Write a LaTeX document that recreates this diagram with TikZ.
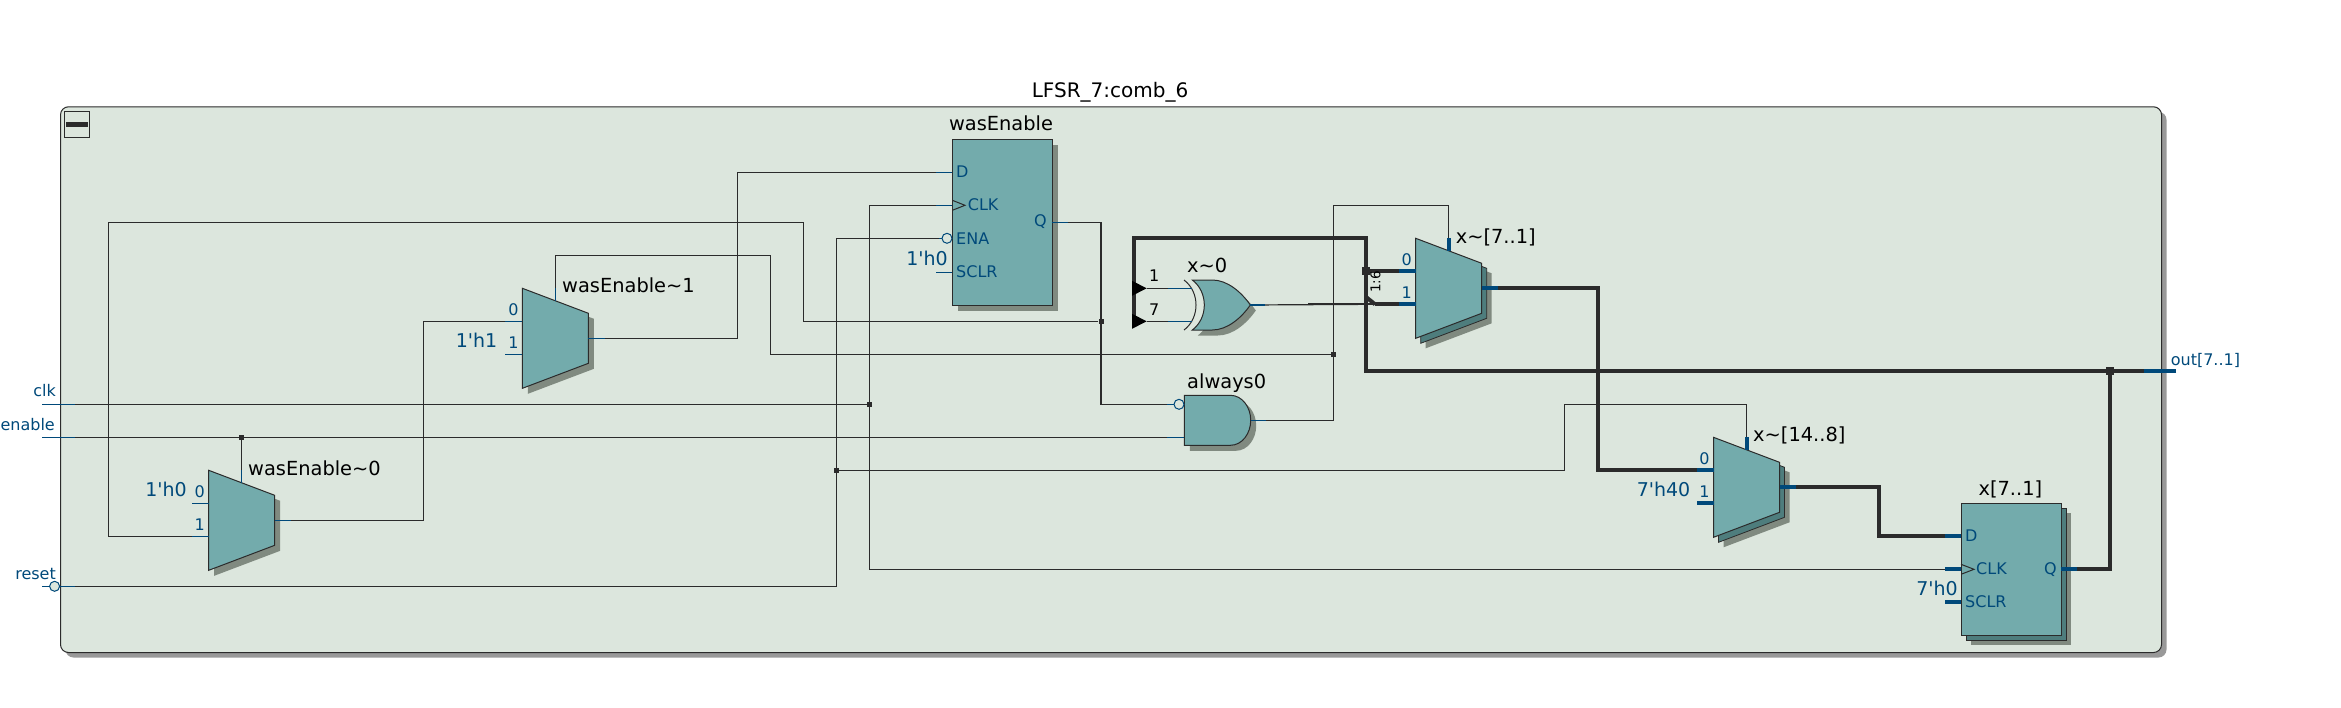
\documentclass[tikz,border=0pt]{standalone}
\usepackage{fontspec}
\setmainfont{DejaVu Sans}
\usetikzlibrary{shadows}
\definecolor{frameGreen}{HTML}{DCE6DD}
\definecolor{frameGray}{HTML}{999999}
\definecolor{blockTeal}{HTML}{73ABAC}
\definecolor{blockGray}{HTML}{808A80}
\definecolor{stackTeal}{HTML}{4E7D7D}
\definecolor{pinBlue}{HTML}{00497A}
\definecolor{wireBlack}{HTML}{2B2B2B}
\tikzset{
	wire/.style={line width=1.2pt, color=wireBlack},
	bus/.style={line width=4pt, color=wireBlack},
	stub/.style={line width=1.2pt, color=pinBlue},
	busstub/.style={line width=4pt, color=pinBlue},
	blockface/.style={draw=wireBlack, line width=1pt, fill=blockTeal},
	shadowface/.style={fill=blockGray},
	stackface/.style={draw=wireBlack, line width=.8pt, fill=stackTeal},
	junction/.style={fill=wireBlack, inner sep=0pt, minimum size=5pt},
	bigjunction/.style={junction, minimum size=8pt},
	bubble/.style={circle, draw=pinBlue, line width=1pt, fill=frameGreen, inner sep=0pt, minimum size=10pt},
	namelbl/.style={font=\fontsize{19.4}{20}\selectfont, inner sep=0pt, anchor=base west},
	constlbl/.style={font=\fontsize{19}{20}\selectfont, text=pinBlue, inner sep=0pt, anchor=base east},
	pinlbl/.style={font=\fontsize{16}{18}\selectfont, text=pinBlue, inner sep=0pt, anchor=base west},
	ffbox/.style={anchor=north west, draw=wireBlack, line width=1pt, fill=blockTeal, inner sep=0pt},
	pics/muxface/.style={code={
		\path[#1] (0,0) -- (66,25) -- (66,75) -- (0,100) -- cycle;
	}},
	pics/muxpins/.style={code={
		\coordinate (-p0) at (0,33);
		\coordinate (-p1) at (0,66);
		\coordinate (-out) at (66,50);
		\coordinate (-sel) at (33,0);
		\node[pinlbl, anchor=base east] (-zero) at (-3.7,27) {0};
		\node[pinlbl, anchor=base east] (-one) at (-3.7,60.3) {1};
	}},
	pics/xorface/.style={code={
		\path[#1] (0,0) -- (20,0) .. controls (35,0) and (49,12) .. (58,25)
			.. controls (49,38) and (35,50) .. (20,50) -- (0,50)
			.. controls (16,38) and (16,12) .. (0,0) -- cycle;
	}},
	pics/andface/.style={code={
		\path[#1] (0,0) -- (46,0) .. controls (58,0) and (66.4,12) .. (66.4,25)
			.. controls (66.4,38) and (58,50) .. (46,50) -- (0,50) -- cycle;
	}},
}
\begin{document}
\begin{tikzpicture}[x=1pt, y=-1pt]
	\useasboundingbox (0,0) rectangle (2341,707);

	%Rahmen
	\node[anchor=north west, draw=wireBlack, line width=1pt, fill=frameGreen, rounded corners=8pt, inner sep=0pt,
		minimum width=2101pt, minimum height=545.7pt,
		general shadow={shadow xshift=5pt, shadow yshift=-5pt, fill=frameGray}] (blockFrame) at (60,106.3) {};
	\node[anchor=north west, draw=wireBlack, line width=1pt, inner sep=0pt, minimum width=25pt, minimum height=26pt] (collapseBox) at (64,111) {};
	\node[fill=wireBlack, inner sep=0pt, minimum width=22pt, minimum height=4.5pt] (collapseBar) at (collapseBox.center) {};
	\node[namelbl, font=\fontsize{20}{20}\selectfont, anchor=base] (frameName) at (1110,97.3) {LFSR\_7:comb\_6};

	%Anschlusspunkte
	\coordinate (inClk) at (42,404.3);
	\coordinate (inEnable) at (42,437.3);
	\coordinate (inReset) at (42,586.3);
	\coordinate (outBus) at (2176,370.7);
	\coordinate (ffaD) at (952.3,172.3);
	\coordinate (ffaClk) at (952.3,205.3);
	\coordinate (ffaEna) at (942,238.3);
	\coordinate (ffaSclr) at (952.3,272.3);
	\coordinate (ffaQ) at (1051.7,222.3);
	\coordinate (ffbD) at (1961,535.7);
	\coordinate (ffbClk) at (1961,569.3);
	\coordinate (ffbSclr) at (1961,601.7);
	\coordinate (ffbQ) at (2060.6,569.3);
	\coordinate (andIn) at (1174,404.3);
	\coordinate (andEn) at (1184.3,437.3);
	\coordinate (andOut) at (1250.7,420.3);
	\coordinate (xorIn) at (1146.7,288.3);
	\coordinate (xorInb) at (1146.7,321.3);
	\coordinate (xorOut) at (1250,305);
	\coordinate (ripTop) at (1366,297);
	\coordinate (ripEnd) at (1375,304.3);
	\coordinate (ripWide) at (1308,304.3);
	\coordinate (cornerQ) at (803.5,222.3);
	\coordinate (cornerFeed) at (108.7,222.3);
	\coordinate (cornerSel) at (770.4,255.3);
	\coordinate (cornerAlw) at (1333.7,205.3);
	\coordinate (cornerRst) at (1564.4,404.3);
	\coordinate (busLeft) at (1134,321.3);
	\coordinate (busTop) at (1366,238.3);

	%Knoten auf den Leitungen
	\node[junction] (jClk) at (869.4,404.3) {};
	\node[junction] (jEnable) at (241.7,437.3) {};
	\node[junction] (jReset) at (836.7,470.3) {};
	\node[junction] (jQ) at (1101,321.3) {};
	\node[junction] (jAlways) at (1333.7,354.3) {};
	\node[bigjunction] (jBus) at (1366,271.3) {};
	\node[bigjunction] (jOut) at (2110,370.7) {};

	%Muxe, Gatter
	\foreach \n/\x/\y in {muxA/208.7/470.3, muxB/522.4/288.3}
	{
		\pic at (\x+5.5,\y+5.5) {muxface=shadowface};
		\pic at (\x,\y) {muxface=blockface};
		\pic (\n) at (\x,\y) {muxpins};
	}
	\foreach \n/\x/\y in {muxC/1415.7/238.3, muxD/1713.5/437.3}
	{
		\pic at (\x+10,\y+10) {muxface=shadowface};
		\pic at (\x+5,\y+5) {muxface=stackface};
		\pic at (\x,\y) {muxface=blockface};
		\pic (\n) at (\x,\y) {muxpins};
	}
	\pic at (1197.8,285.5) {xorface=shadowface};
	\pic at (1192.3,280) {xorface=blockface};
	\draw[wire, line width=1pt] (1184,280) .. controls (1200,292) and (1200,318) .. (1184,330);
	\pic at (1189.8,400.8) {andface=shadowface};
	\pic at (1184.3,395.3) {andface=blockface};

	%Leitungen
	\draw[wire] (muxB-out) -- ++(149,0) |- (ffaD);
	\draw[wire] (muxA-out) -- ++(149,0) |- (muxB-p0);
	\draw[wire] (inEnable) -- (andEn);
	\draw[wire] (muxA-sel) -- (jEnable);
	\draw[wire] (inClk) -- (jClk);
	\draw[wire] (ffaClk) -- (jClk |- ffaClk) |- (ffbClk);
	\draw[wire] (inReset) -- (jReset |- inReset) |- (ffaEna);
	\draw[wire] (jReset) -| (cornerRst) -| (muxD-sel);
	\draw[wire] (ffaQ) -| (jQ) |- (andIn);
	\draw[wire] (jQ) -| (cornerQ) -- (cornerFeed) |- (muxA-p1);
	\draw[wire] (muxB-sel) |- (cornerSel) |- (jAlways);
	\draw[wire] (andOut) -| (cornerAlw) -| (muxC-sel);
	\draw[wire] (xorIn) -- ++(45,0);
	\draw[wire] (xorInb) -- ++(45,0);
	\draw[wire] (xorOut) -- (ripEnd);
	\draw[line width=2pt, wireBlack] (ripWide) -- (ripEnd);
	\draw[bus, line join=miter] (busLeft) |- (busTop) |- (outBus);
	\draw[bus] (jBus) -- (muxC-p0);
	\draw[bus] (ripTop) -- (ripEnd);
	\draw[bus] (ripEnd) -- (muxC-p1);
	\draw[bus, line join=miter] (muxC-out) -- ++(116,0) |- (muxD-p0);
	\draw[bus, line join=miter] (muxD-out) -- ++(99.3,0) |- (ffbD);
	\draw[bus, line join=miter] (ffbQ) -| (jOut);

	%Register
	\node[ffbox, minimum width=99.4pt, minimum height=166pt,
		general shadow={shadow xshift=5.5pt, shadow yshift=-5.5pt, fill=blockGray}] (ffA) at (952.3,139.3) {};
	\node[ffbox, minimum width=99.6pt, minimum height=132pt,
		general shadow={shadow xshift=9.5pt, shadow yshift=-9pt, fill=blockGray},
		general shadow={shadow xshift=5pt, shadow yshift=-5pt, fill=stackTeal, draw=wireBlack}] (ffB) at (1961,503.3) {};

	%Stummel
	\foreach \n in {muxA, muxB}
	{
		\draw[stub] (\n-p0) -- ++(-17,0);
		\draw[stub] (\n-p1) -- ++(-17,0);
		\draw[stub] (\n-out) -- ++(16.5,0);
		\draw[stub] (\n-sel) -- ++(0,13);
	}
	\foreach \n in {muxC, muxD}
	{
		\draw[busstub] (\n-p0) -- ++(-17,0);
		\draw[busstub] (\n-p1) -- ++(-17,0);
		\draw[busstub] (\n-out) -- ++(16.5,0);
		\draw[busstub] (\n-sel) -- ++(0,13);
	}
	\draw[stub] (ffaD) -- ++(-16,0);
	\draw[stub] (ffaClk) -- ++(-16,0);
	\draw[stub] (ffaEna) -- ++(-3,0);
	\draw[stub] (ffaSclr) -- ++(-16,0);
	\draw[stub] (ffaQ) -- ++(16,0);
	\draw[stub] (andIn) -- ++(-7,0);
	\draw[stub] (andEn) -- ++(-17,0);
	\draw[stub] (andOut) -- ++(15,0);
	\draw[stub] (xorOut) -- ++(15,0);
	\draw[stub] (xorIn) ++(21,0) -- ++(24,0);
	\draw[stub] (xorInb) ++(21,0) -- ++(24,0);
	\draw[stub] (inClk) -- ++(32.5,0);
	\draw[stub] (inEnable) -- ++(32.5,0);
	\draw[stub] (inReset) -- ++(32.5,0);
	\draw[busstub] (ffbD) -- ++(-16,0);
	\draw[busstub] (ffbClk) -- ++(-16,0);
	\draw[busstub] (ffbSclr) -- ++(-16,0);
	\draw[busstub] (ffbQ) -- ++(16,0);
	\draw[busstub] (outBus) -- ++(-32,0);
	\draw[wire, line width=1pt] (952.3,200.3) -- (965,205.3) -- (952.3,210.3);
	\draw[wire, line width=1pt] (1961,564.3) -- (1974,569.3) -- (1961,574.3);
	\node[bubble] (bubEna) at (947,238.3) {};
	\node[bubble] (bubAnd) at (1179,404.3) {};
	\node[bubble] (bubRst) at (54.6,586.3) {};

	%Eingangspfeile
	\fill[black] (1132,280.8) -- (xorIn) -- (1132,295.8) -- cycle;
	\fill[black] (1132,313.8) -- (xorInb) -- (1132,328.8) -- cycle;

	%Namen
	\node[namelbl, anchor=base] (ffAname) at (1001,130.7) {wasEnable};
	\node[namelbl] (muxBname) at (562,292.7) {wasEnable\char`~1};
	\node[namelbl] (muxAname) at (248,475) {wasEnable\char`~0};
	\node[namelbl] (xorName) at (1187,272.7) {x\char`~0};
	\node[namelbl] (andName) at (1187,388) {always0};
	\node[namelbl] (muxCname) at (1455.6,243.3) {x\char`~[7..1]};
	\node[namelbl] (muxDname) at (1753,441.7) {x\char`~[14..8]};
	\node[namelbl, anchor=base] (ffBname) at (2010.4,495) {x[7..1]};

	%Konstanten
	\node[constlbl] (constB) at (497.5,347.3) {1\textquotesingle h1};
	\node[constlbl] (constA) at (187,496.7) {1\textquotesingle h0};
	\node[constlbl] (constFa) at (948,265) {1\textquotesingle h0};
	\node[constlbl] (constD) at (1690.5,496.7) {7\textquotesingle h40};
	\node[constlbl] (constFb) at (1958,595) {7\textquotesingle h0};

	%Pins
	\node[pinlbl] (ffaDl) at (956,177.3) {D};
	\node[pinlbl] (ffaClkl) at (967.7,210) {CLK};
	\node[pinlbl] (ffaEnal) at (956,244) {ENA};
	\node[pinlbl] (ffaSclrl) at (956,277.3) {SCLR};
	\node[pinlbl, anchor=base east] (ffaQl) at (1047,226.7) {Q};
	\node[pinlbl] (ffbDl) at (1965,541) {D};
	\node[pinlbl] (ffbClkl) at (1976,574) {CLK};
	\node[pinlbl] (ffbSclrl) at (1965,607) {SCLR};
	\node[pinlbl, anchor=base east] (ffbQl) at (2057,574) {Q};
	\node[pinlbl, text=black] (xorOne) at (1149,281.7) {1};
	\node[pinlbl, text=black] (xorSeven) at (1149,315) {7};
	\node[pinlbl, anchor=base east] (clkName) at (56,396.7) {clk};
	\node[pinlbl, anchor=base east] (enableName) at (55,430) {enable};
	\node[pinlbl, anchor=base east] (resetName) at (56,579) {reset};
	\node[pinlbl] (outName) at (2170.6,365) {out[7..1]};
	\node[font=\fontsize{13.5}{14}\selectfont, inner sep=0pt, rotate=90] (ripName) at (1375.5,282) {1:6};
\end{tikzpicture}
\end{document}
